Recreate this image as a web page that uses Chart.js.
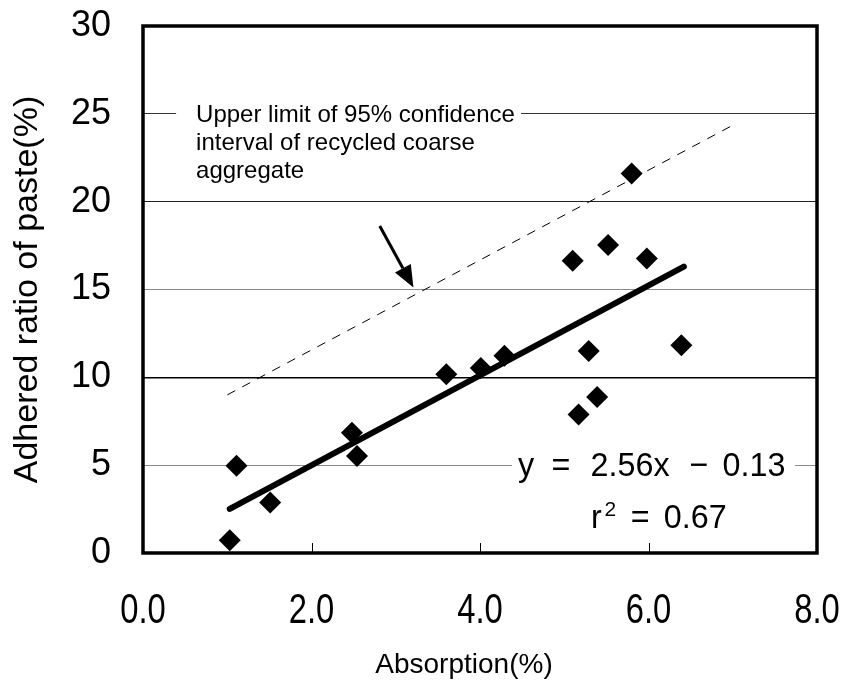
<!DOCTYPE html>
<html lang="en">
<head>
<meta charset="UTF-8">
<title>Adhered ratio of paste vs absorption</title>
<style>
  html, body { margin: 0; padding: 0; background: #fff; }
  #chart { display: block; }
</style>
</head>
<body>
<canvas id="chart" width="844" height="681"></canvas>
<script src="https://cdn.jsdelivr.net/npm/chart.js"></script>
<script>
// measured points (absorption %, adhered paste %)
const absorption = [1.03, 1.11, 1.51, 2.48, 2.54, 3.60, 4.01, 4.29, 5.10, 5.17, 5.29, 5.39, 5.52, 5.80, 5.98, 6.39];
const pasteRatio = [0.73, 4.96, 2.87, 6.85, 5.52, 10.18, 10.53, 11.23, 16.63, 7.89, 11.50, 8.88, 17.54, 21.60, 16.76, 11.82];

// regression y = 2.56x - 0.13, drawn over the data range
const fitSlope = 2.56;
const fitIntercept = -0.13;
const fitX = [1.03, 6.42];

// upper limit of 95% confidence interval (dashed)
const upperX = [1.0, 6.98];
const upperY = [9.0, 24.3];

const xTickValues = [0, 2, 4, 6, 8];
const noteLines = ["Upper limit of 95% confidence", "interval of recycled coarse", "aggregate"];
const arrowFrom = [2.81, 18.62];
const arrowTo = [3.21, 15.11];

const ARIAL = '"Liberation Sans", Arial, sans-serif';

// text squeezed horizontally (the original uses a condensed face)
function narrowText(ctx, text, x, y, sx) {
  ctx.save();
  ctx.translate(x, y);
  ctx.scale(sx, 1);
  ctx.fillText(text, 0, 0);
  ctx.restore();
}

const decor = {
  id: "decor",
  afterDraw(chart) {
    const { ctx, chartArea: a, scales: { x, y } } = chart;
    ctx.save();

    // small inner ticks on the x axis
    ctx.strokeStyle = "#000";
    ctx.lineWidth = 1;
    [2, 4, 6].forEach((v) => {
      const px = Math.round(x.getPixelForValue(v)) + 0.5;
      ctx.beginPath();
      ctx.moveTo(px, a.bottom);
      ctx.lineTo(px, a.bottom - 10);
      ctx.stroke();
    });

    // frame
    ctx.lineWidth = 3.5;
    ctx.strokeRect(a.left, a.top, a.right - a.left, a.bottom - a.top);

    // x tick labels
    ctx.fillStyle = "#000";
    ctx.font = "42px " + ARIAL;
    ctx.textAlign = "center";
    ctx.textBaseline = "alphabetic";
    xTickValues.forEach((v) => {
      narrowText(ctx, v.toFixed(1), x.getPixelForValue(v), a.bottom + 70, 0.78);
    });

    // confidence note
    ctx.font = "24px " + ARIAL;
    ctx.textBaseline = "middle";
    ctx.textAlign = "left";
    const nx = x.getPixelForValue(0.63);
    const ny = y.getPixelForValue(24.9);
    ctx.fillStyle = "#fff";
    ctx.fillRect(nx - 20, ny - 14, 345, 84);
    ctx.fillStyle = "#000";
    noteLines.forEach((t, i) => ctx.fillText(t, nx, ny + i * 28));

    // arrow
    const ax0 = x.getPixelForValue(arrowFrom[0]), ay0 = y.getPixelForValue(arrowFrom[1]);
    const ax1 = x.getPixelForValue(arrowTo[0]), ay1 = y.getPixelForValue(arrowTo[1]);
    const ang = Math.atan2(ay1 - ay0, ax1 - ax0);
    const hl = 22, hw = 9;
    const bx = ax1 - hl * Math.cos(ang), by = ay1 - hl * Math.sin(ang);
    ctx.lineWidth = 3;
    ctx.beginPath();
    ctx.moveTo(ax0, ay0);
    ctx.lineTo(bx, by);
    ctx.stroke();
    ctx.beginPath();
    ctx.moveTo(ax1, ay1);
    ctx.lineTo(bx + hw * Math.sin(ang), by - hw * Math.cos(ang));
    ctx.lineTo(bx - hw * Math.sin(ang), by + hw * Math.cos(ang));
    ctx.closePath();
    ctx.fill();

    // regression equation, spaced like the original
    const ex = x.getPixelForValue(6.03);
    const ey = y.getPixelForValue(5);
    ctx.fillStyle = "#fff";
    ctx.fillRect(ex - 139, ey - 16, 283, 32);
    ctx.fillStyle = "#000";
    ctx.font = "34px " + ARIAL;
    ctx.textAlign = "center";
    ctx.textBaseline = "alphabetic";
    [["y", -125], ["=", -90], ["2.56x", -21], ["\u2212", 48], ["0.13", 103]].forEach(([t, dx]) => {
      narrowText(ctx, t, ex + dx, ey + 11, 0.95);
    });
    const rx = x.getPixelForValue(6.14);
    const ry = y.getPixelForValue(2.08);
    [["r", -64], ["=", -20], ["0.67", 35]].forEach(([t, dx]) => {
      narrowText(ctx, t, rx + dx, ry + 12, 0.95);
    });
    ctx.font = "21px " + ARIAL;
    ctx.fillText("2", rx - 50, ry);

    // x axis title
    ctx.font = "28px " + ARIAL;
    ctx.textAlign = "center";
    ctx.textBaseline = "middle";
    ctx.fillText("Absorption(%)", 464, 665);
    ctx.restore();
  }
};

new Chart(document.getElementById("chart"), {
  type: "scatter",
  data: {
    datasets: [
      {
        label: "Measured",
        data: absorption.map((v, i) => ({ x: v, y: pasteRatio[i] })),
        pointStyle: "rectRot",
        pointRadius: 11,
        pointBackgroundColor: "#000",
        pointBorderWidth: 0,
        order: 1
      },
      {
        label: "Regression",
        type: "line",
        data: fitX.map((v) => ({ x: v, y: fitSlope * v + fitIntercept })),
        borderColor: "#000",
        borderWidth: 6,
        borderCapStyle: "round",
        pointRadius: 0,
        order: 2
      },
      {
        label: "Upper 95% limit",
        type: "line",
        data: upperX.map((v, i) => ({ x: v, y: upperY[i] })),
        borderColor: "#000",
        borderWidth: 1,
        borderDash: [9, 8],
        pointRadius: 0,
        order: 3
      }
    ]
  },
  options: {
    responsive: false,
    animation: false,
    layout: { padding: { top: 26, right: 27, left: 0, bottom: 0 } },
    plugins: { legend: { display: false }, tooltip: { enabled: false } },
    scales: {
      x: {
        type: "linear",
        min: 0,
        max: 8,
        afterFit: (s) => { s.height = 128; },
        border: { display: false },
        grid: { display: false },
        ticks: { display: false, stepSize: 2 }
      },
      y: {
        min: 0,
        max: 30,
        afterFit: (s) => { s.width = 143; },
        border: { display: false },
        grid: {
          drawTicks: true,
          tickLength: 32,
          tickColor: "rgba(0,0,0,0)",
          color: (c) => ({ 10: "#000", 20: "#222", 25: "#333" }[c.tick.value] || "#8a8a8a"),
          lineWidth: (c) => (c.tick.value === 10 ? 1.6 : 1)
        },
        ticks: {
          stepSize: 5,
          padding: 0,
          color: "#000",
          font: { family: ARIAL, size: 36 }
        },
        title: {
          display: true,
          text: "Adhered ratio of paste(%)",
          color: "#000",
          font: { family: ARIAL, size: 34 },
          padding: { top: 7, bottom: 0 }
        }
      }
    }
  },
  plugins: [decor]
});
</script>
</body>
</html>
